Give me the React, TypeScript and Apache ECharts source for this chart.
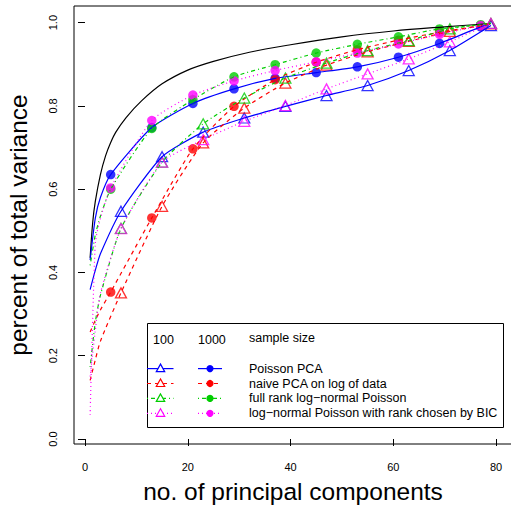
import React, { useEffect, useRef } from "react";
import * as echarts from "echarts";

// theoretical (true) cumulative variance curve
const xTrue = [1, 1.5, 2, 3, 4, 5, 6, 8, 11, 15, 20, 25, 32, 40, 50, 60, 70, 79];
const trueVariance = [0.435, 0.52, 0.57, 0.635, 0.68, 0.712, 0.737, 0.772, 0.812, 0.853, 0.886, 0.907, 0.929, 0.947, 0.966, 0.98, 0.99, 0.998];

// x positions
const xLead = [1, 2, 3];
const x1000 = [5, 13, 21, 29, 37, 45, 53, 61, 69, 77];
const x100 = [7, 15, 23, 31, 39, 47, 55, 63, 71, 79];
const xEnd = 79;

// Poisson PCA
const poisson1000Lead = [0.43, 0.53, 0.58];
const poisson1000 = [0.635, 0.748, 0.806, 0.841, 0.866, 0.88, 0.894, 0.917, 0.95, 0.99];
const poisson100Lead = [0.359, 0.405, 0.445];
const poisson100 = [0.547, 0.678, 0.737, 0.771, 0.799, 0.825, 0.849, 0.885, 0.933, 0.993];

// naive PCA on log of data
const naive1000Lead = [0.257, 0.285, 0.31];
const naive1000 = [0.353, 0.531, 0.697, 0.799, 0.863, 0.905, 0.935, 0.958, 0.977, 0.993];
const naive100Lead = [0.141, 0.19, 0.235];
const naive100 = [0.351, 0.559, 0.711, 0.795, 0.855, 0.898, 0.93, 0.955, 0.979, 0.997];

// full rank log-normal Poisson
const full1000Lead = [0.417, 0.49, 0.535];
const full1000 = [0.6, 0.746, 0.815, 0.87, 0.899, 0.927, 0.948, 0.966, 0.985, 0.995];
const full100Lead = [0.173, 0.28, 0.345];
const full100 = [0.506, 0.665, 0.757, 0.819, 0.867, 0.903, 0.933, 0.957, 0.985, 0.998];

// log-normal Poisson with rank chosen by BIC
const bic1000Lead = [0.058, 0.47, 0.53];
const bic1000 = [0.603, 0.765, 0.826, 0.86, 0.885, 0.906, 0.927, 0.949, 0.972, 0.993];
const bic100Lead = [0.15, 0.26, 0.35];
const bic100 = [0.505, 0.665, 0.719, 0.763, 0.801, 0.841, 0.877, 0.913, 0.954, 0.998];

const tail1000 = [0.998, 0.999, 0.999, 0.999];

// axis ticks
const xTicks = [0, 20, 40, 60, 80];
const yTicks = [0, 0.2, 0.4, 0.6, 0.8, 1.0];

const methodNames = [
  "Poisson PCA",
  "naive PCA on log of data",
  "full rank log\u2212normal Poisson",
  "log\u2212normal Poisson with rank chosen by BIC",
];
const sampleSizes = ["100", "1000"];

const FONT = "'Liberation Sans', Arial, Helvetica, sans-serif";
const colors = ["#0000FF", "#FF0000", "#00CD00", "#FF00FF"];
const dashes: any[] = ["solid", [4, 4], [1, 3, 4, 3], [1, 3]];

export default function App() {
  const ref = useRef<HTMLDivElement>(null);
  useEffect(() => {
    if (!ref.current) return;
    const chart = echarts.init(ref.current, undefined, { renderer: "svg" });

    const methods = [
      { l100: poisson100Lead, v100: poisson100, l1000: poisson1000Lead, v1000: poisson1000 },
      { l100: naive100Lead, v100: naive100, l1000: naive1000Lead, v1000: naive1000 },
      { l100: full100Lead, v100: full100, l1000: full1000Lead, v1000: full1000 },
      { l100: bic100Lead, v100: bic100, l1000: bic1000Lead, v1000: bic1000 },
    ];

    const series: any[] = [
      {
        type: "line",
        data: xTrue.map((x, i) => [x, trueVariance[i]]),
        showSymbol: false,
        smooth: 0.35,
        lineStyle: { color: "#000", width: 1.2 },
        silent: true,
      },
    ];

    methods.forEach((m, k) => {
      const color = colors[k];
      const lineStyle = { color, width: 1.2, type: dashes[k] };
      const d100 = xLead.map((x, i) => [x, m.l100[i]]).concat(x100.map((x, i) => [x, m.v100[i]]));
      const d1000 = xLead
        .map((x, i) => [x, m.l1000[i]])
        .concat(x1000.map((x, i) => [x, m.v1000[i]]))
        .concat([[xEnd, tail1000[k]]]);
      series.push({
        type: "line",
        data: d100,
        showSymbol: false,
        smooth: 0.2,
        lineStyle,
        silent: true,
      });
      series.push({
        type: "line",
        data: d1000,
        showSymbol: false,
        smooth: 0.2,
        lineStyle,
        silent: true,
      });
      series.push({
        type: "scatter",
        data: x100.map((x, i) => [x, m.v100[i]]),
        symbol: "triangle",
        symbolSize: [11, 10],
        itemStyle: { color: "rgba(0,0,0,0)", borderColor: color, borderWidth: 1.3 },
        silent: true,
      });
      series.push({
        type: "scatter",
        data: x1000.map((x, i) => [x, m.v1000[i]]),
        symbol: "circle",
        symbolSize: 9.5,
        itemStyle: { color },
        silent: true,
      });
    });

    // legend drawn as graphic
    const rowY = [368.6, 383.5, 398.4, 413.3];
    const graphic: any[] = [
      {
        type: "rect",
        shape: { x: 147.5, y: 323.5, width: 356, height: 104 },
        style: { fill: "#fff", stroke: "#000", lineWidth: 1 },
        z: 10,
      },
      {
        type: "text",
        x: 153,
        y: 340,
        style: { text: sampleSizes[0], font: `12.5px ${FONT}`, fill: "#000", verticalAlign: "middle" },
        z: 11,
      },
      {
        type: "text",
        x: 198,
        y: 340,
        style: { text: sampleSizes[1], font: `12.5px ${FONT}`, fill: "#000", verticalAlign: "middle" },
        z: 11,
      },
      {
        type: "text",
        x: 249,
        y: 337.5,
        style: { text: "sample size", font: `12.5px ${FONT}`, fill: "#000", verticalAlign: "middle" },
        z: 11,
      },
    ];
    methodNames.forEach((name, k) => {
      const y = rowY[k];
      const color = colors[k];
      const lineDash = dashes[k] === "solid" ? null : dashes[k];
      graphic.push({
        type: "line",
        shape: { x1: 147, y1: y, x2: 173.5, y2: y },
        style: { stroke: color, lineWidth: 1.2, lineDash },
        z: 11,
      });
      graphic.push({
        type: "line",
        shape: { x1: 198, y1: y, x2: 222, y2: y },
        style: { stroke: color, lineWidth: 1.2, lineDash },
        z: 11,
      });
      graphic.push({
        type: "polygon",
        shape: { points: [[160.5, y - 4.5], [156.3, y + 3], [164.7, y + 3]] },
        style: { fill: "#fff", stroke: color, lineWidth: 1.2 },
        z: 12,
      });
      graphic.push({
        type: "circle",
        shape: { cx: 210, cy: y, r: 3.6 },
        style: { fill: color },
        z: 12,
      });
      graphic.push({
        type: "text",
        x: 249,
        y: y,
        style: { text: name, font: `12.5px ${FONT}`, fill: "#000", verticalAlign: "middle" },
        z: 12,
      });
    });

    chart.setOption({
      animation: false,
      backgroundColor: "#fff",
      grid: {
        left: 74,
        top: 6,
        width: 438,
        height: 438,
        show: true,
        borderColor: "#000",
        borderWidth: 1,
        backgroundColor: "transparent",
        containLabel: false,
        outerBoundsMode: "none",
      },
      xAxis: {
        type: "value",
        min: -2.14,
        max: 83.1,
        name: "no. of principal components",
        nameLocation: "middle",
        nameGap: 35,
        nameTextStyle: { fontFamily: FONT, fontSize: 24.5, color: "#000" },
        axisLine: { show: false },
        axisTick: { show: true, inside: false, length: 7, customValues: xTicks, lineStyle: { color: "#000", width: 1 } },
        axisLabel: { customValues: xTicks, margin: 17, fontFamily: FONT, fontSize: 11, color: "#000" },
        splitLine: { show: false },
      },
      yAxis: {
        type: "value",
        min: -0.012,
        max: 1.04,
        name: "percent of total variance",
        nameLocation: "middle",
        nameRotate: 90,
        nameGap: 43,
        nameTextStyle: { fontFamily: FONT, fontSize: 24.5, color: "#000" },
        axisLine: { show: false },
        axisTick: { show: true, inside: false, length: 7, customValues: yTicks, lineStyle: { color: "#000", width: 1 } },
        axisLabel: {
          customValues: yTicks,
          rotate: 90,
          margin: 16,
          fontFamily: FONT,
          fontSize: 11,
          color: "#000",
          formatter: (v: number) => v.toFixed(1),
        },
        splitLine: { show: false },
      },
      series,
      graphic,
    });
    return () => chart.dispose();
  }, []);
  return <div ref={ref} style={{ width: 511, height: 507, position: "absolute", left: 0, top: 0 }} />;
}
